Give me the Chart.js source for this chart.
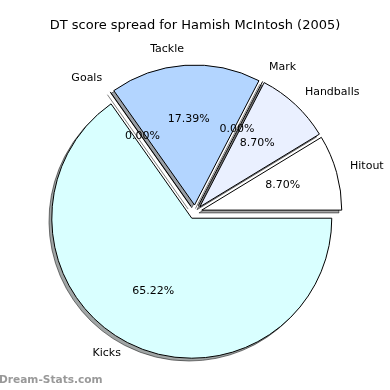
<!DOCTYPE html>
<html>
<head>
<meta charset="utf-8">
<script src="https://cdn.jsdelivr.net/npm/chart.js@4.4.1/dist/chart.umd.min.js"></script>
<style>
  html, body { margin: 0; padding: 0; background: #fff; }
</style>
</head>
<body>
<canvas id="pie" width="390" height="390"></canvas>
<script>
// Slices in matplotlib order (anticlockwise from 3 o'clock)
const labels = ['Hitout', 'Handballs', 'Mark', 'Tackle', 'Goals', 'Kicks'];
const values = [2, 2, 0, 4, 0, 15];
const colours = ['#ffffff', '#eaf0ff', '#d0e4ff', '#b3d5ff', '#c8f6ff', '#d9ffff'];
const TITLE = 'DT score spread for Hamish McIntosh (2005)';
const WATERMARK = 'Dream-Stats.com';

const RADIUS = 140;
const EXPLODE = 0.05;        // every slice pushed out by 5% of radius
const SHADOW = [-2.8, 2.8];  // shadow offset, left and down
const FONT = '"DejaVu Sans", sans-serif';

// Chart.js goes clockwise, so hand it the slices reversed
const cjLabels = labels.slice().reverse();
const cjValues = values.slice().reverse();
const cjColours = colours.slice().reverse();
const total = values.reduce((a, b) => a + b, 0);

function sliceGeom(arc) {
  const p = arc.getProps(['x', 'y', 'startAngle', 'endAngle', 'outerRadius'], true);
  const mid = (p.startAngle + p.endAngle) / 2;
  return { ...p, mid, off: EXPLODE * p.outerRadius };
}

// Draw one slice, pushed out along its middle angle
function drawSlice(ctx, arc, shadow) {
  const g = sliceGeom(arc);
  let dx = Math.cos(g.mid) * g.off;
  let dy = Math.sin(g.mid) * g.off;
  if (shadow) {
    dx += SHADOW[0];
    dy += SHADOW[1];
  }
  ctx.save();
  ctx.translate(dx, dy);
  if (shadow) {
    ctx.filter = 'brightness(0.3)';
    ctx.globalAlpha = 0.5;
  }
  if (g.endAngle - g.startAngle > 0) {
    arc.draw(ctx);
  } else {
    // empty slice: matplotlib still draws its edge as one line
    ctx.strokeStyle = '#000';
    ctx.lineWidth = 1;
    ctx.beginPath();
    ctx.moveTo(g.x, g.y);
    ctx.lineTo(g.x + Math.cos(g.mid) * g.outerRadius, g.y + Math.sin(g.mid) * g.outerRadius);
    ctx.stroke();
  }
  ctx.restore();
}

const explodedPie = {
  id: 'explodedPie',
  beforeDatasetsDraw(chart) {
    const ctx = chart.ctx;
    const arcs = chart.getDatasetMeta(0).data;
    arcs.forEach(arc => drawSlice(ctx, arc, true));   // shadows underneath
    arcs.forEach(arc => drawSlice(ctx, arc, false));
    return false;
  },
  afterDraw(chart) {
    const ctx = chart.ctx;
    const arcs = chart.getDatasetMeta(0).data;
    ctx.save();
    ctx.fillStyle = '#000';
    ctx.textBaseline = 'middle';
    ctx.font = '11px ' + FONT;
    arcs.forEach((arc, i) => {
      const g = sliceGeom(arc);
      const c = Math.cos(g.mid), s = Math.sin(g.mid);
      // category name outside
      const lr = 1.1 * g.outerRadius + g.off;
      ctx.textAlign = c > 0 ? 'left' : 'right';
      ctx.fillText(cjLabels[i], g.x + c * lr, g.y + s * lr - 2);
      // percentage inside
      const pr = 0.6 * g.outerRadius + g.off;
      ctx.textAlign = 'center';
      const pct = (cjValues[i] / total * 100).toFixed(2) + '%';
      ctx.fillText(pct, g.x + c * pr, g.y + s * pr - 2);
    });

    ctx.font = '13px ' + FONT;
    ctx.textAlign = 'center';
    ctx.fillText(TITLE, 195, 26);

    ctx.font = 'bold 10.6px ' + FONT;
    ctx.fillStyle = '#999';
    ctx.textAlign = 'left';
    ctx.fillText(WATERMARK, -1, 380);
    ctx.restore();
  }
};

new Chart(document.getElementById('pie'), {
  type: 'pie',
  data: {
    labels: cjLabels,
    datasets: [{
      data: cjValues,
      backgroundColor: cjColours,
      borderColor: '#000',
      borderWidth: 1,
    }],
  },
  options: {
    responsive: false,
    devicePixelRatio: 1,
    animation: false,
    rotation: 90,
    radius: RADIUS,
    layout: { padding: { top: 40, bottom: 6, left: 20, right: 20 } },
    plugins: {
      legend: { display: false },
      tooltip: { enabled: false },
      title: { display: false },
    },
  },
  plugins: [explodedPie],
});
</script>
</body>
</html>
